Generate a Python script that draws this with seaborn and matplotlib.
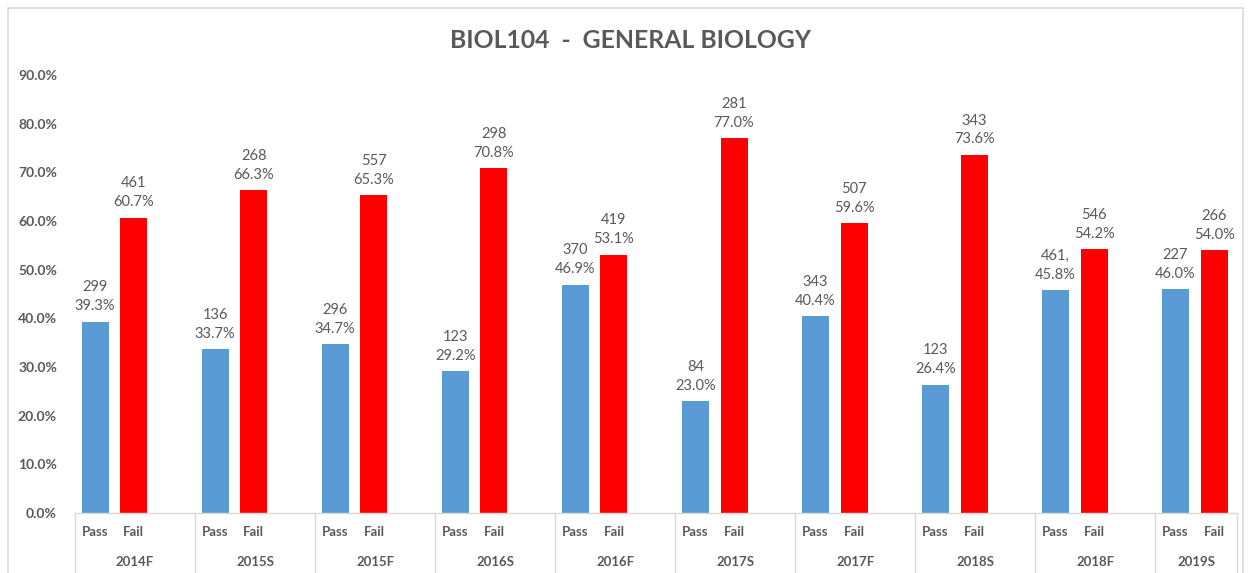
import matplotlib
matplotlib.use("Agg")
import matplotlib.pyplot as plt
import matplotlib.transforms as mtransforms
from matplotlib.patches import Rectangle
from matplotlib.ticker import FuncFormatter
import numpy as np
import pandas as pd
import seaborn as sns

terms = ["2014F", "2015S", "2015F", "2016S", "2016F", "2017S", "2017F", "2018S", "2018F", "2019S"]
pass_pct = [39.3, 33.7, 34.7, 29.2, 46.9, 23.0, 40.4, 26.4, 45.8, 46.0]
pass_n = ["299", "136", "296", "123", "370", "84", "343", "123", "461,", "227"]
fail_pct = [60.7, 66.3, 65.3, 70.8, 53.1, 77.0, 59.6, 73.6, 54.2, 54.0]
fail_n = ["461", "268", "557", "298", "419", "281", "507", "343", "546", "266"]

BLUE = "#5B9BD5"
RED = "#FF0000"
GRAY = "#595959"
LINE = "#D9D9D9"

sns.set_style("white")
plt.rcParams["font.family"] = ["Lato", "DejaVu Sans"]

# positions inside each term group (group width = 1)
pass_off, fail_off, bar_w = 0.167, 0.49, 0.225
x_end = 9.68

rows = []
for i, t in enumerate(terms):
    rows.append({"term": t, "result": "Pass", "x": i + pass_off, "pct": pass_pct[i] / 100, "n": pass_n[i]})
    rows.append({"term": t, "result": "Fail", "x": i + fail_off, "pct": fail_pct[i] / 100, "n": fail_n[i]})
df = pd.DataFrame(rows)

fig = plt.figure(figsize=(12.49, 5.73), dpi=100)
ax = fig.add_axes([75 / 1249, 1 - 513 / 573, (1237 - 75) / 1249, (513 - 75) / 573])

for res, col in [("Pass", BLUE), ("Fail", RED)]:
    sub = df[df["result"] == res]
    sns.barplot(data=sub, x="x", y="pct", native_scale=True, color=col,
                width=bar_w, saturation=1, ax=ax, errorbar=None, linewidth=0)

ax.set_xlim(0, x_end)
ax.set_ylim(0, 0.9)
ax.set_yticks(np.arange(0, 0.91, 0.1))
ax.yaxis.set_major_formatter(FuncFormatter(lambda v, _: f"{v * 100:.1f}%"))
ax.tick_params(axis="y", length=0, pad=13, labelsize=10, labelcolor=GRAY)
for lab in ax.get_yticklabels():
    lab.set_fontweight("bold")
ax.set_xticks([])
ax.set_xlabel("")
ax.set_ylabel("")
for side in ["top", "right", "left"]:
    ax.spines[side].set_visible(False)
ax.spines["bottom"].set_color(LINE)
ax.spines["bottom"].set_linewidth(1)

# data labels
for _, r in df.iterrows():
    ax.annotate(f"{r['n']}\n{r['pct'] * 100:.1f}%", (r["x"], r["pct"]),
                xytext=(0, 6), textcoords="offset points", ha="center", va="bottom",
                fontsize=10.5, color=GRAY, linespacing=1.45)

# two-level category axis
trans = mtransforms.blended_transform_factory(ax.transData, ax.transAxes)
px = 1 / 438
for i in range(len(terms) + 1):
    xv = min(i, x_end)
    ax.plot([xv, xv], [0, -70 * px], transform=trans, color=LINE, lw=1, clip_on=False)
for i, t in enumerate(terms):
    ax.text(i + pass_off, -19 * px, "Pass", transform=trans, ha="center", va="center",
            fontsize=9.5, fontweight="bold", color=GRAY)
    ax.text(i + fail_off, -19 * px, "Fail", transform=trans, ha="center", va="center",
            fontsize=9.5, fontweight="bold", color=GRAY)
    center = (i + min(i + 1, x_end)) / 2
    ax.text(center, -49 * px, t, transform=trans, ha="center", va="center",
            fontsize=9.5, fontweight="bold", color=GRAY)

fig.text(631 / 1249, 1 - 40 / 573, "BIOL104  -  GENERAL BIOLOGY", ha="center", va="center",
         fontsize=17.8, fontweight="bold", color=GRAY)

# chart border
fig.patches.append(Rectangle((8 / 1249, -0.05), (1243 - 8) / 1249, 1.05 - 8 / 573,
                             transform=fig.transFigure, fill=False, edgecolor=LINE, lw=1.2))

fig.savefig("out.png", dpi=100)
